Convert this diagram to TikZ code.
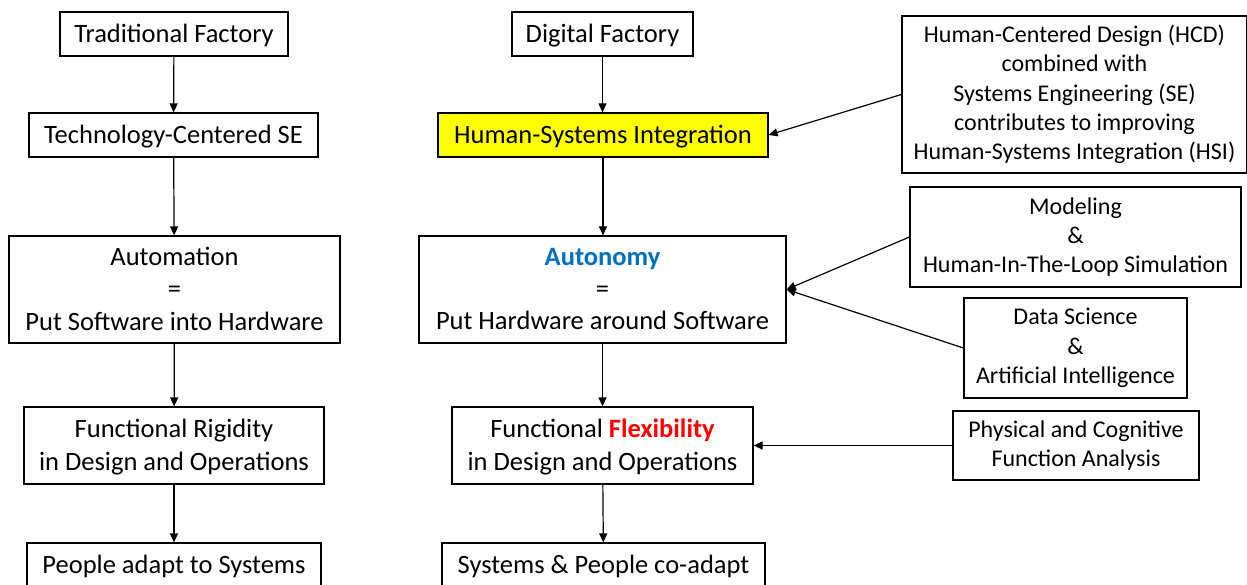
\documentclass[tikz,border=0pt]{standalone}
\usepackage{fontspec}
\setmainfont{Carlito}
\usetikzlibrary{arrows.meta}
\definecolor{hsiyellow}{RGB}{255,255,0}
\definecolor{autoblue}{RGB}{0,112,192}
\definecolor{flexred}{RGB}{255,0,0}
\tikzset{
	box/.style={draw, line width=1.2pt, align=center, inner sep=0pt, fill=white},
	blk/.style={box, text depth=1.5pt, font=\fontsize{26.5}{32.3}\selectfont},
	sideblk/.style={box, font=\fontsize{24}{29.3}\selectfont},
	arr/.style={line width=1.2pt, -{Triangle[length=9pt,width=8pt]}}
}

\begin{document}
\begin{tikzpicture}[x=1pt, y=-1pt]
			%%%%% START %%%%%
			
			\clip (0, 0) rectangle (1247, 585);
			\fill[white] (0, 0) rectangle (1247, 585);
			
			\node[blk, minimum width=228, minimum height=44] (trad) at (174, 34) {Traditional Factory};
			\node[blk, minimum width=289, minimum height=44] (tcse) at (173.5, 135) {Technology-Centered SE};
			\node[blk, minimum width=331, minimum height=107] (autom) at (174.5, 289.5) {Automation\\=\\Put Software into Hardware};
			\node[blk, minimum width=300, minimum height=77] (rigid) at (174, 445.5) {Functional Rigidity\\in Design and Operations};
			\node[blk, minimum width=294, minimum height=44] (adapt) at (174, 565) {People adapt to Systems};
			
			\node[blk, minimum width=181, minimum height=44] (digi) at (602.5, 34) {Digital Factory};
			\node[blk, fill=hsiyellow, minimum width=330, minimum height=44] (hsi) at (603, 135) {Human-Systems Integration};
			\node[blk, minimum width=367, minimum height=107] (auton) at (602.5, 289.5) {\textbf{\color{autoblue}Autonomy}\\=\\Put Hardware around Software};
			\node[blk, minimum width=301, minimum height=77] (flex) at (602.5, 445.5) {Functional \textbf{\color{flexred}Flexibility}\\in Design and Operations};
			\node[blk, minimum width=323, minimum height=44] (coad) at (603.5, 565) {Systems \& People co-adapt};
			
			\node[sideblk, minimum width=345, minimum height=157] (hcd) at (1074.5, 94.5) {Human-Centered Design (HCD)\\combined with\\Systems Engineering (SE)\\contributes to improving\\Human-Systems Integration (HSI)};
			\node[sideblk, minimum width=331, minimum height=100] (model) at (1075.5, 237) {Modeling\\\&\\Human-In-The-Loop Simulation};
			\node[sideblk, minimum width=223, minimum height=100] (dsai) at (1075.5, 348) {Data Science\\\&\\Artificial Intelligence};
			\node[sideblk, minimum width=246, minimum height=69] (pcfa) at (1076, 445.5) {Physical and Cognitive\\Function Analysis};
			
			\draw[arr] (trad) -- (tcse);
			\draw[arr] (tcse) -- (autom);
			\draw[arr] (autom) -- (rigid);
			\draw[arr] (rigid) -- (adapt);
			
			\draw[arr] (digi.south) -- (digi.south |- hsi.north);
			\draw[arr] (hsi.south) -- (hsi.south |- auton.north);
			\draw[arr] (auton) -- (flex);
			\draw[arr] (flex) -- (coad);
			
			\draw[arr] (hcd.west) -- (hsi.east);
			\draw[arr] (model.west) -- (auton.east);
			\draw[arr] (dsai.west) -- (auton.east);
			\draw[arr] (pcfa.west) -- (flex.east);
			
			%%%%% END %%%%%
		\end{tikzpicture}
\end{document}
